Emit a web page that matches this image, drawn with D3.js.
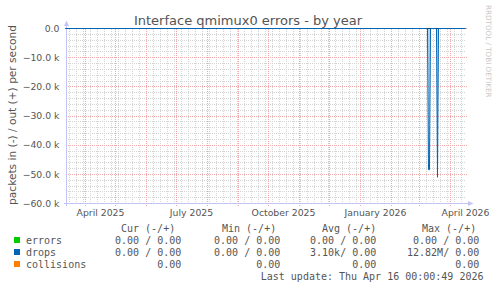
<!DOCTYPE html>
<html>
<head>
<meta charset="utf-8">
<script src="https://cdn.jsdelivr.net/npm/d3@7"></script>
<style>
  body { margin: 0; background: #fff; }
  svg { display: block; }
  .tick-label { font-family: "DejaVu Sans"; font-size: 9.3px; fill: #555; }
  .legend { font-family: "DejaVu Sans Mono"; font-size: 10px; fill: #555; white-space: pre; }
</style>
</head>
<body>
<div id="chart"></div>
<script>
const W = 497, H = 288;
const plot = { left: 65.5, right: 465.5, top: 28.5, bottom: 203.5 };

// ──── Data ────
const endTime = new Date(2026, 3, 16, 0, 0, 49);
const startTime = new Date(endTime.getTime() - 400 * 86400000);

const yTicks = [0, -10000, -20000, -30000, -40000, -50000, -60000];
const labelMonths = [new Date(2025, 3, 1), new Date(2025, 6, 1), new Date(2025, 9, 1),
                     new Date(2026, 0, 1), new Date(2026, 3, 1)];

// drops, "in" direction (drawn negative), daily samples
const dropDates = [new Date(2025, 2, 12), new Date(2026, 2, 9), new Date(2026, 2, 10),
                   new Date(2026, 2, 11), new Date(2026, 2, 12), new Date(2026, 2, 18),
                   new Date(2026, 2, 19), new Date(2026, 2, 20), new Date(2026, 3, 16)];
const dropIn = [0, 0, -48400, -48400, 0, 0, -51000, 0, 0];

const legendNames = ["errors", "drops", "collisions"];
const legendColors = ["#00cc00", "#0066b3", "#ff8000"];
const legendHeaders = ["Cur (-/+)", "Min (-/+)", "Avg (-/+)", "Max (-/+)"];
const curVals = ["  0.00 / 0.00", "  0.00 / 0.00", "         0.00"];
const minVals = ["  0.00 / 0.00", "  0.00 / 0.00", "         0.00"];
const avgVals = ["  0.00 / 0.00", "  3.10k/ 0.00", "         0.00"];
const maxVals = ["  0.00 / 0.00", " 12.82M/ 0.00", "         0.00"];
const lastUpdate = "Last update: Thu Apr 16 00:00:49 2026";

// ──── Scales ────
const x = d3.scaleTime().domain([startTime, endTime]).range([plot.left, plot.right]);
const y = d3.scaleLinear().domain([-60000, 0]).range([plot.bottom, plot.top]);

const svg = d3.select("#chart").append("svg")
  .attr("width", W).attr("height", H);

// ──── Grid ────
const grid = svg.append("g").attr("shape-rendering", "crispEdges");

// minor horizontal every 2k
grid.selectAll("line.hmin")
  .data(d3.range(-60000, 1, 2000).filter(v => v % 10000 !== 0))
  .join("line")
  .attr("x1", plot.left).attr("x2", plot.right)
  .attr("y1", d => Math.round(y(d) - 0.5) + 0.5).attr("y2", d => Math.round(y(d) - 0.5) + 0.5)
  .attr("stroke", "#d4d4d4").attr("stroke-dasharray", "1,1");

// minor vertical weekly
grid.selectAll("line.vmin")
  .data(d3.timeSunday.range(startTime, endTime))
  .join("line")
  .attr("x1", d => Math.round(x(d) - 0.5) + 0.5).attr("x2", d => Math.round(x(d) - 0.5) + 0.5)
  .attr("y1", plot.top).attr("y2", plot.bottom)
  .attr("stroke", "#d4d4d4").attr("stroke-dasharray", "1,1");

// major horizontal every 10k
grid.selectAll("line.hmaj")
  .data(yTicks)
  .join("line")
  .attr("x1", plot.left).attr("x2", plot.right + 2)
  .attr("y1", d => Math.round(y(d) - 0.5) + 0.5).attr("y2", d => Math.round(y(d) - 0.5) + 0.5)
  .attr("stroke", "#f0a8a8").attr("stroke-dasharray", "1,1");

// major vertical monthly
grid.selectAll("line.vmaj")
  .data(d3.timeMonth.range(startTime, endTime))
  .join("line")
  .attr("x1", d => Math.round(x(d) - 0.5) + 0.5).attr("x2", d => Math.round(x(d) - 0.5) + 0.5)
  .attr("y1", plot.top).attr("y2", plot.bottom + 2)
  .attr("stroke", "#f0a8a8").attr("stroke-dasharray", "1,1");

// ──── Axes ────
const axisColor = "#c4c4f4";
svg.append("line")
  .attr("x1", plot.left + 1).attr("x2", plot.left + 1)
  .attr("y1", plot.bottom + 2).attr("y2", 24)
  .attr("stroke", axisColor).attr("shape-rendering", "crispEdges");
svg.append("path")
  .attr("d", `M${plot.left - 1.5},26 L${plot.left + 1},20.5 L${plot.left + 3.5},26 Z`)
  .attr("fill", axisColor);
svg.append("line")
  .attr("x1", plot.left - 2).attr("x2", 470)
  .attr("y1", plot.bottom).attr("y2", plot.bottom)
  .attr("stroke", axisColor).attr("shape-rendering", "crispEdges");
svg.append("path")
  .attr("d", `M468,${plot.bottom - 2.5} L473.5,${plot.bottom} L468,${plot.bottom + 2.5} Z`)
  .attr("fill", axisColor);

// y tick labels
svg.selectAll("text.ylab")
  .data(yTicks)
  .join("text")
  .attr("class", "tick-label")
  .attr("x", 59.5)
  .attr("y", d => y(d) + 3.3)
  .attr("text-anchor", "end")
  .text(d => d === 0 ? "0.0" : d3.format(".1f")(d / 1000) + " k");

// x labels, centred half a month after the month start
svg.selectAll("text.xlab")
  .data(labelMonths)
  .join("text")
  .attr("class", "tick-label")
  .attr("x", d => x(d3.timeDay.offset(d, 15)))
  .attr("y", 215.5)
  .attr("text-anchor", "middle")
  .text(d => d3.timeFormat("%B %Y")(d));

// ──── Series ────
// zero line (errors / collisions flat at zero)
svg.append("line")
  .attr("x1", plot.left).attr("x2", plot.right)
  .attr("y1", y(0)).attr("y2", y(0))
  .attr("stroke", "#000").attr("stroke-width", 1);

const dropLine = d3.line()
  .x((d, i) => x(dropDates[i]))
  .y(d => y(d));

svg.append("path")
  .datum(dropIn)
  .attr("d", dropLine)
  .attr("fill", "#8fbce6")
  .attr("fill-opacity", 0.6)
  .attr("stroke", legendColors[1])
  .attr("stroke-width", 1);

// ──── Titles ────
svg.append("text")
  .attr("x", 248).attr("y", 24.5)
  .attr("text-anchor", "middle")
  .style("font-family", "DejaVu Sans").style("font-size", "13px").style("fill", "#555")
  .text("Interface qmimux0 errors - by year");

svg.append("text")
  .attr("transform", "translate(15.5,115) rotate(-90)")
  .attr("text-anchor", "middle")
  .style("font-family", "DejaVu Sans").style("font-size", "10.6px").style("fill", "#555")
  .text("packets in (-) / out (+) per second");

svg.append("text")
  .attr("transform", "translate(486,5) rotate(90)")
  .attr("text-anchor", "start")
  .style("font-family", "DejaVu Sans").style("font-size", "7.2px").style("fill", "#c8c8c8")
  .text("RRDTOOL / TOBI OETIKER");

// ──── Legend ────
const headerX = [121, 222, 322, 422];
const colX = [103, 202, 298, 401];
const rowY = [243.5, 255.5, 267.5];

svg.selectAll("text.lhead")
  .data(legendHeaders)
  .join("text")
  .attr("class", "legend")
  .attr("x", (d, i) => headerX[i]).attr("y", 231.5)
  .text(d => d);

const rows = svg.selectAll("g.lrow")
  .data(legendNames)
  .join("g");

rows.append("rect")
  .attr("x", 14).attr("y", (d, i) => rowY[i] - 6.5)
  .attr("width", 6).attr("height", 6)
  .attr("fill", (d, i) => legendColors[i]);

rows.append("text")
  .attr("class", "legend")
  .attr("x", 26).attr("y", (d, i) => rowY[i])
  .text(d => d);

[curVals, minVals, avgVals, maxVals].forEach((vals, c) => {
  rows.append("text")
    .attr("class", "legend")
    .attr("x", colX[c]).attr("y", (d, i) => rowY[i])
    .text((d, i) => vals[i]);
});

svg.append("text")
  .attr("class", "legend")
  .attr("x", 483.5).attr("y", 279.5)
  .attr("text-anchor", "end")
  .text(lastUpdate);
</script>
</body>
</html>
